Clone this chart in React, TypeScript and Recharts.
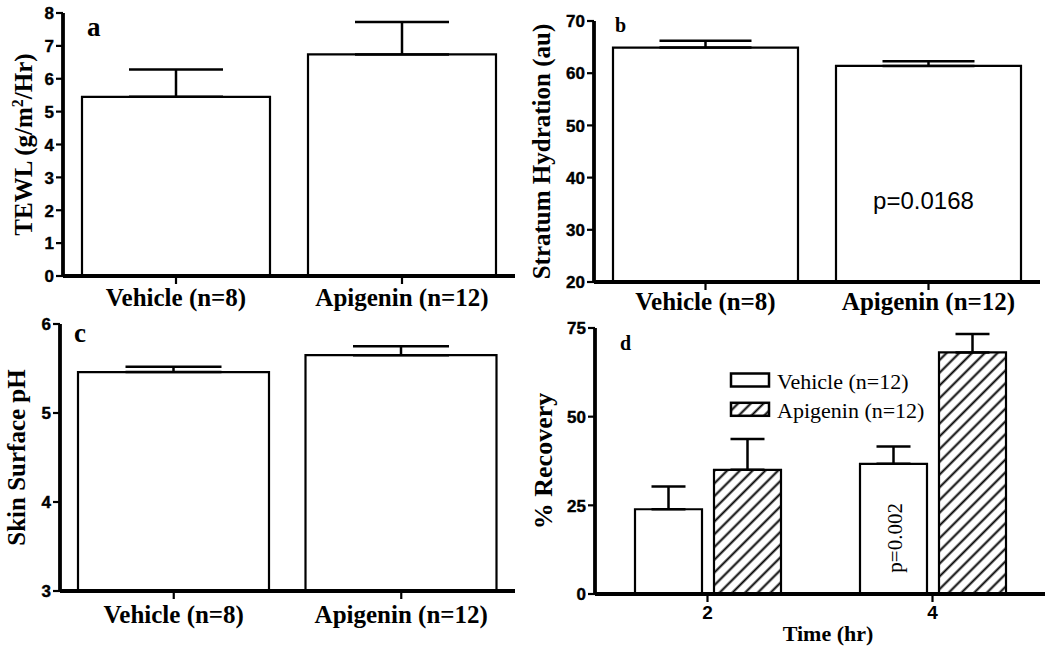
import React from 'react';
import { BarChart, Bar, XAxis, YAxis, ErrorBar, LabelList, Label, Legend } from 'recharts';

const sans = '"Liberation Sans", Arial, sans-serif';
const serif = '"Liberation Serif", "Times New Roman", serif';

// ---- Panel a : TEWL ----
const groupLabels = ['Vehicle (n=8)', 'Apigenin (n=12)'];
const tewlMeans = [5.45, 6.74];
const tewlSem = [0.83, 0.99];
const tewlTicks = [0, 1, 2, 3, 4, 5, 6, 7, 8];

// ---- Panel b : Stratum hydration ----
const hydrationMeans = [64.9, 61.4];
const hydrationSem = [1.3, 0.9];
const hydrationNotes = ['', 'p=0.0168'];
const hydrationTicks = [20, 30, 40, 50, 60, 70];

// ---- Panel c : Skin surface pH ----
const phMeans = [5.46, 5.65];
const phSem = [0.06, 0.1];
const phTicks = [3, 4, 5, 6];

// ---- Panel d : % Recovery ----
const timeLabels = ['2', '4'];
const recoverySeries = ['Vehicle (n=12)', 'Apigenin (n=12)'];
const vehicleRecovery = [23.9, 36.7];
const vehicleRecoverySem = [6.4, 4.9];
const apigeninRecovery = [35.0, 68.1];
const apigeninRecoverySem = [8.7, 5.2];
const recoveryNotes = ['', 'p=0.002'];
const recoveryTicks = [0, 25, 50, 75];

const tewlData = groupLabels.map((name, i) => ({ name, value: tewlMeans[i], err: [0, tewlSem[i]] }));
const hydrationData = groupLabels.map((name, i) => ({
  name,
  value: hydrationMeans[i],
  err: [0, hydrationSem[i]],
  note: hydrationNotes[i],
}));
const phData = groupLabels.map((name, i) => ({ name, value: phMeans[i], err: [0, phSem[i]] }));
const recoveryData = timeLabels.map((name, i) => ({
  name,
  vehicle: vehicleRecovery[i],
  vehicleErr: [0, vehicleRecoverySem[i]],
  apigenin: apigeninRecovery[i],
  apigeninErr: [0, apigeninRecoverySem[i]],
  note: recoveryNotes[i],
}));

const axisLine = { stroke: '#000', strokeWidth: 3.8 };
const tickLine = { stroke: '#000', strokeWidth: 2.2 };
const xTickSerif = { fill: '#000', fontSize: 25, fontWeight: 'bold', fontFamily: serif };

const YTick = (props: any) => {
  const { x, y, payload } = props;
  return (
    <text x={x} y={y} dy="0.37em" textAnchor="end" fontFamily={sans} fontWeight="bold" fontSize={17}
      fill="#000" stroke="#000" strokeWidth={0.4}>
      {payload && payload.value}
    </text>
  );
};

const yTitle = (content: React.ReactNode, baselineX: number, fallbackCy: number, size = 25) => (props: any) => {
  const vb = props && props.viewBox ? props.viewBox : null;
  const cy = vb && typeof vb.y === 'number' ? vb.y + vb.height / 2 : fallbackCy;
  return (
    <text
      x={baselineX}
      y={cy}
      transform={`rotate(-90, ${baselineX}, ${cy})`}
      textAnchor="middle"
      fontFamily={serif}
      fontWeight="bold"
      fontSize={size}
      fill="#000"
    >
      {content}
    </text>
  );
};

const renderRecoveryLegend = () => (
  <svg width={230} height={60}>
    {recoverySeries.map((name, i) => (
      <g key={name}>
        <rect
          x={4}
          y={3.5 + i * 29.3}
          width={38}
          height={13}
          fill={i === 0 ? '#fff' : 'url(#hatch)'}
          stroke="#000"
          strokeWidth={2.5}
        />
        <text x={50} y={19 + i * 29.3} fontFamily={serif} fontSize={22} fill="#000">
          {name}
        </text>
      </g>
    ))}
  </svg>
);

export default function App() {
  return (
    <div style={{ position: 'absolute', left: 0, top: 0, width: 1050, height: 654, background: '#fff', overflow: 'hidden' }}>
      <svg width={0} height={0} style={{ position: 'absolute' }}>
        <defs>
          <pattern id="hatch" patternUnits="userSpaceOnUse" width={9} height={9} patternTransform="rotate(45)">
            <rect width={9} height={9} fill="#fff" />
            <line x1={4.5} y1={0} x2={4.5} y2={9} stroke="#000" strokeWidth={2} />
          </pattern>
        </defs>
      </svg>

      {/* Panel a */}
      <div style={{ position: 'absolute', left: 0, top: 0 }}>
        <BarChart width={525} height={326} data={tewlData} margin={{ top: 13, right: 10, bottom: 0, left: 0 }}>
          <XAxis dataKey="name" type="category" height={50} interval={0} tickSize={8} tickMargin={4}
            axisLine={axisLine} tickLine={tickLine} tick={xTickSerif} />
          <YAxis type="number" domain={[0, 8]} ticks={tewlTicks} interval={0} width={63} tickSize={7} tickMargin={2}
            axisLine={axisLine} tickLine={tickLine} tick={YTick} allowDataOverflow>
            <Label content={yTitle(
              <>TEWL (g/m<tspan fontSize={16} dy={-9}>2</tspan><tspan dy={9}>/Hr)</tspan></>, 32, 144.5)} />
          </YAxis>
          <Bar dataKey="value" barSize={188} fill="#fff" stroke="#000" strokeWidth={2.2} isAnimationActive={false}>
            <ErrorBar dataKey="err" direction="y" width={47} stroke="#000" strokeWidth={2.5} />
          </Bar>
        </BarChart>
      </div>

      {/* Panel b */}
      <div style={{ position: 'absolute', left: 525, top: 0 }}>
        <BarChart width={525} height={326} data={hydrationData} margin={{ top: 21, right: 10, bottom: 0, left: 0 }}>
          <XAxis dataKey="name" type="category" height={44} interval={0} tickSize={8} tickMargin={2}
            axisLine={axisLine} tickLine={tickLine} tick={xTickSerif} />
          <YAxis type="number" domain={[20, 70]} ticks={hydrationTicks} interval={0} width={69} tickSize={7} tickMargin={2}
            axisLine={axisLine} tickLine={tickLine} tick={YTick} allowDataOverflow>
            <Label content={yTitle('Stratum Hydration (au)', 25, 151.5)} />
          </YAxis>
          <Bar dataKey="value" barSize={185} fill="#fff" stroke="#000" strokeWidth={2.2} isAnimationActive={false}>
            <ErrorBar dataKey="err" direction="y" width={46} stroke="#000" strokeWidth={2.5} />
            <LabelList dataKey="note" content={(p: any) =>
              p.value ? (
                <text x={p.x + p.width / 2 - 5} y={p.y + p.height / 2 + 35} textAnchor="middle"
                  fontFamily={sans} fontSize={24} fill="#000">{p.value}</text>
              ) : null} />
          </Bar>
        </BarChart>
      </div>

      {/* Panel c */}
      <div style={{ position: 'absolute', left: 0, top: 310 }}>
        <BarChart width={525} height={344} data={phData} margin={{ top: 14, right: 10, bottom: 0, left: 0 }}>
          <XAxis dataKey="name" type="category" height={63} interval={0} tickSize={8} tickMargin={6}
            axisLine={axisLine} tickLine={tickLine} tick={xTickSerif} />
          <YAxis type="number" domain={[3, 6]} ticks={phTicks} interval={0} width={60} tickSize={7} tickMargin={2}
            axisLine={axisLine} tickLine={tickLine} tick={YTick} allowDataOverflow>
            <Label content={yTitle('Skin Surface pH', 25, 147)} />
          </YAxis>
          <Bar dataKey="value" barSize={191} fill="#fff" stroke="#000" strokeWidth={2.2} isAnimationActive={false}>
            <ErrorBar dataKey="err" direction="y" width={48} stroke="#000" strokeWidth={2.5} />
          </Bar>
        </BarChart>
      </div>

      {/* Panel d */}
      <div style={{ position: 'absolute', left: 525, top: 310 }}>
        <BarChart width={525} height={344} data={recoveryData} margin={{ top: 18, right: 5, bottom: 0, left: 0 }}
          barGap={12}>
          <XAxis dataKey="name" type="category" height={60} interval={0} tickSize={8} tickMargin={4}
            axisLine={axisLine} tickLine={tickLine}
            tick={{ fill: '#000', fontSize: 19, fontWeight: 'bold', fontFamily: sans }}>
            <Label content={(p: any) => {
              const vb = p && p.viewBox ? p.viewBox : { x: 70, width: 450, y: 284 };
              const cx = vb.x + vb.width / 2 + 8;
              return (
                <text x={cx} y={331} textAnchor="middle" fontFamily={serif} fontWeight="bold" fontSize={22} fill="#000">
                  Time (hr)
                </text>
              );
            }} />
          </XAxis>
          <YAxis type="number" domain={[0, 75]} ticks={recoveryTicks} interval={0} width={70} tickSize={7} tickMargin={2}
            axisLine={axisLine} tickLine={tickLine} tick={YTick} allowDataOverflow>
            <Label content={yTitle('% Recovery', 27, 151, 26)} />
          </YAxis>
          <Legend layout="vertical" align="center" verticalAlign="middle" content={renderRecoveryLegend}
            wrapperStyle={{ position: 'absolute', left: 202, top: 60, width: 230, height: 60 }} />
          <Bar dataKey="vehicle" name={recoverySeries[0]} barSize={67} fill="#fff" stroke="#000" strokeWidth={2.2}
            isAnimationActive={false}>
            <ErrorBar dataKey="vehicleErr" direction="y" width={17} stroke="#000" strokeWidth={2.5} />
            <LabelList dataKey="note" content={(p: any) => {
              if (!p.value) return null;
              const cx = p.x + p.width / 2 + 2;
              const cy = p.y + p.height / 2 + 9;
              return (
                <text x={cx} y={cy} transform={`rotate(-90, ${cx}, ${cy})`} textAnchor="middle"
                  dominantBaseline="central" fontFamily={serif} fontSize={21} fill="#000">{p.value}</text>
              );
            }} />
          </Bar>
          <Bar dataKey="apigenin" name={recoverySeries[1]} barSize={67} fill="url(#hatch)" stroke="#000" strokeWidth={2.2}
            isAnimationActive={false}>
            <ErrorBar dataKey="apigeninErr" direction="y" width={17} stroke="#000" strokeWidth={2.5} />
          </Bar>
        </BarChart>
      </div>

      {/* panel letters */}
      <svg width={1050} height={654} style={{ position: 'absolute', left: 0, top: 0, pointerEvents: 'none' }}>
        <text x={87} y={36} fontFamily={serif} fontWeight="bold" fontSize={27} fill="#000">a</text>
        <text x={615} y={31.5} fontFamily={serif} fontWeight="bold" fontSize={20} fill="#000">b</text>
        <text x={74} y={342} fontFamily={serif} fontWeight="bold" fontSize={27} fill="#000">c</text>
        <text x={620} y={350} fontFamily={serif} fontWeight="bold" fontSize={20} fill="#000">d</text>
      </svg>
    </div>
  );
}
